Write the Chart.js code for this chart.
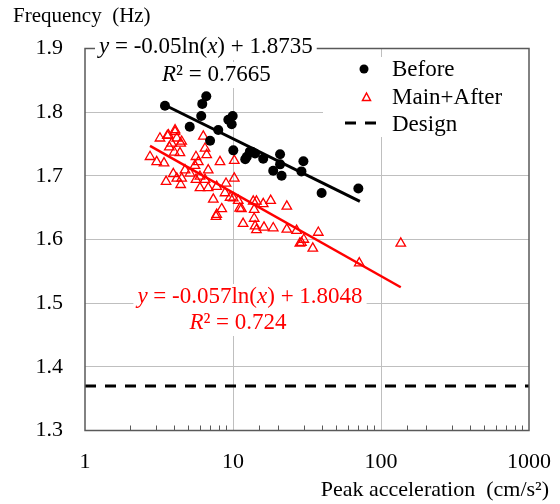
<!DOCTYPE html>
<html>
<head>
<meta charset="utf-8">
<script src="https://cdn.jsdelivr.net/npm/chart.js@4.4.1/dist/chart.umd.min.js"></script>
<style>
  html, body { margin: 0; padding: 0; background: #fff; }
  #wrap { width: 560px; height: 504px; }
</style>
</head>
<body>
<div id="wrap"><canvas id="freqChart" width="560" height="504"></canvas></div>
<script>
const xTickLabels = [1, 10, 100, 1000];
const yTickLabels = [1.3, 1.4, 1.5, 1.6, 1.7, 1.8, 1.9];

// Before (black dots)
const beforeX = [3.47, 5.1, 6.1, 6.2, 6.6, 7.0, 7.95, 9.3, 9.8, 9.95, 10.05, 12.1, 12.4, 13.0,
    13.4, 14.1, 16.0, 18.7, 20.8, 20.8, 21.3, 29.9, 29.0, 39.7, 70.3];
const beforeY = [1.810, 1.777, 1.794, 1.813, 1.825, 1.755, 1.772, 1.788, 1.781, 1.794, 1.740, 1.726, 1.730, 1.738,
    1.738, 1.735, 1.727, 1.708, 1.734, 1.718, 1.700, 1.723, 1.707, 1.673, 1.680];

// Main+After (red triangles)
const mainX = [2.75, 3.05, 3.21, 3.42, 3.53, 3.6, 3.66, 3.71, 3.85, 3.95, 4.01, 4.06, 4.06, 4.17, 4.17,
    4.38, 4.43, 4.43, 4.5, 4.5, 4.74, 5.12, 5.53, 5.62, 5.62, 5.83, 5.98, 5.98, 6.3, 6.47, 6.47, 6.64,
    6.8, 6.8, 7.36, 7.68, 7.76, 7.76, 8.17, 8.39, 8.83, 8.97, 9.55, 10.05, 10.2, 10.2, 10.85, 11.1,
    11.4, 11.7, 13.7, 14.4, 13.9, 13.9, 14.1, 14.4, 16.0, 16.2, 17.97, 18.7, 23.1, 23.1, 26.9, 28.3,
    29.0, 30.1, 34.6, 37.7, 71.3, 136];
const mainY = [1.730, 1.722, 1.759, 1.720, 1.691, 1.763, 1.764, 1.745, 1.751, 1.703, 1.737, 1.769, 1.772, 1.759, 1.696,
    1.736, 1.751, 1.686, 1.754, 1.696, 1.709, 1.704, 1.716, 1.730, 1.694, 1.722, 1.699, 1.681, 1.762, 1.743, 1.694, 1.733,
    1.709, 1.681, 1.663, 1.636, 1.639, 1.683, 1.722, 1.648, 1.673, 1.688, 1.666, 1.665, 1.724, 1.696, 1.661, 1.649,
    1.648, 1.625, 1.660, 1.660, 1.647, 1.633, 1.621, 1.615, 1.656, 1.619, 1.661, 1.618, 1.652, 1.616, 1.614, 1.594,
    1.595, 1.600, 1.586, 1.611, 1.563, 1.594];

// trend line end points and design level
const beforeFitX = [3.4, 72];
const beforeFitY = [1.812, 1.660];
const mainFitX = [2.75, 136];
const mainFitY = [1.747, 1.525];
const designX = [1, 1000];
const designY = [1.37, 1.37];

const toPoints = (xs, ys) => xs.map((x, i) => ({ x: x, y: ys[i] }));

const SERIF = "'Liberation Serif', 'Times New Roman', serif";
const GRID = '#bfbfbf';
const FRAME = '#595959';

// draws text made of plain / italic pieces; x is the left edge, or the centre when centred is true
function drawRich(ctx, parts, x0, cy, color, centred, size) {
    ctx.textBaseline = 'middle';
    ctx.textAlign = 'left';
    const font = it => (it ? 'italic ' : '') + size + 'px ' + SERIF;
    let total = 0;
    const widths = parts.map(p => {
        ctx.font = font(p[1]);
        const w = ctx.measureText(p[0]).width;
        total += w;
        return w;
    });
    let x = centred ? x0 - total / 2 : x0;
    ctx.fillStyle = '#fff';
    ctx.fillRect(x - 4, cy - 13, total + 8, 26);
    ctx.fillStyle = color;
    parts.forEach((p, i) => {
        ctx.font = font(p[1]);
        ctx.fillText(p[0], x, cy);
        x += widths[i];
    });
}

const overlay = {
    id: 'overlay',
    afterDraw(chart) {
        const { ctx, chartArea: a, scales: { x } } = chart;
        ctx.save();

        // minor ticks on the bottom axis, pointing inward
        ctx.strokeStyle = FRAME;
        ctx.lineWidth = 1;
        x.ticks.forEach(t => {
            if (xTickLabels.includes(t.value)) return;
            const px = Math.round(x.getPixelForValue(t.value)) + 0.5;
            ctx.beginPath();
            ctx.moveTo(px, a.bottom);
            ctx.lineTo(px, a.bottom - 5);
            ctx.stroke();
        });

        // legend
        ctx.fillStyle = '#fff';
        ctx.fillRect(323, 57, a.right - 323, 80);
        ctx.font = '23px ' + SERIF;
        ctx.textBaseline = 'middle';
        ctx.textAlign = 'left';
        ctx.fillStyle = '#000';
        ctx.beginPath();
        ctx.arc(364, 69, 4.5, 0, Math.PI * 2);
        ctx.fill();
        ctx.fillText('Before', 392, 70);

        ctx.strokeStyle = '#ff0000';
        ctx.lineWidth = 1.5;
        ctx.beginPath();
        ctx.moveTo(366.5, 93);
        ctx.lineTo(370.5, 100.5);
        ctx.lineTo(362.5, 100.5);
        ctx.closePath();
        ctx.stroke();
        ctx.fillStyle = '#000';
        ctx.fillText('Main+After', 392, 98);

        ctx.strokeStyle = '#000';
        ctx.lineWidth = 3;
        ctx.setLineDash([11, 9]);
        ctx.beginPath();
        ctx.moveTo(345, 123);
        ctx.lineTo(376, 123);
        ctx.stroke();
        ctx.setLineDash([]);
        ctx.fillText('Design', 392, 125);

        // plot frame
        ctx.strokeStyle = FRAME;
        ctx.lineWidth = 1.5;
        ctx.strokeRect(a.left, a.top, a.right - a.left, a.bottom - a.top);

        // regression equations
        drawRich(ctx, [['y', 1], [' = -0.05ln(', 0], ['x', 1], [') + 1.8735', 0]], 99, 47, '#000', false, 23);
        drawRich(ctx, [['R', 1], ['\u00b2 = 0.7665', 0]], 162, 75, '#000', false, 23);
        drawRich(ctx, [['y', 1], [' = -0.057ln(', 0], ['x', 1], [') + 1.8048', 0]], 250, 297, '#ff0000', true, 23);
        drawRich(ctx, [['R', 1], ['\u00b2 = 0.724', 0]], 238, 323, '#ff0000', true, 23);

        // axis titles
        ctx.fillStyle = '#000';
        ctx.font = '21px ' + SERIF;
        ctx.textAlign = 'left';
        ctx.fillText('Frequency  (Hz)', 13, 16);
        ctx.font = '22px ' + SERIF;
        ctx.textAlign = 'right';
        ctx.fillText('Peak acceleration  (cm/s\u00b2)', 549, 490);
        ctx.restore();
    }
};

const ctx = document.getElementById('freqChart').getContext('2d');

new Chart(ctx, {
    type: 'scatter',
    data: {
        datasets: [
            {
                label: 'Before fit', type: 'line', data: toPoints(beforeFitX, beforeFitY),
                borderColor: '#000', borderWidth: 3, pointRadius: 0, fill: false
            },
            {
                label: 'Main+After fit', type: 'line', data: toPoints(mainFitX, mainFitY),
                borderColor: '#ff0000', borderWidth: 2.5, pointRadius: 0, fill: false
            },
            {
                label: 'Before', data: toPoints(beforeX, beforeY),
                pointStyle: 'circle', pointRadius: 5, backgroundColor: '#000', borderColor: '#000', borderWidth: 0
            },
            {
                label: 'Main+After', data: toPoints(mainX, mainY),
                pointStyle: 'triangle', pointRadius: 5.5, backgroundColor: 'rgba(0,0,0,0)', borderColor: '#ff0000', borderWidth: 1.3
            },
            {
                label: 'Design', type: 'line', data: toPoints(designX, designY),
                borderColor: '#000', borderWidth: 3, borderDash: [11, 9], pointRadius: 0, fill: false
            }
        ]
    },
    plugins: [overlay],
    options: {
        responsive: false,
        animation: false,
        layout: { padding: { left: 0, right: 31, top: 48.5, bottom: 0 } },
        plugins: {
            legend: { display: false },
            tooltip: { enabled: false }
        },
        scales: {
            x: {
                type: 'logarithmic',
                min: 1,
                max: 1000,
                border: { display: false },
                grid: {
                    drawTicks: false,
                    lineWidth: 1,
                    color: c => (c.tick && (c.tick.value === 10 || c.tick.value === 100)) ? GRID : 'rgba(0,0,0,0)'
                },
                ticks: {
                    autoSkip: false,
                    maxRotation: 0,
                    padding: 19,
                    color: '#000',
                    font: { family: SERIF, size: 22 },
                    callback: v => xTickLabels.includes(v) ? String(v) : ''
                },
                afterFit: s => {
                    s.height = 73.5;
                    s.paddingLeft = 0;
                    s.paddingRight = 0;
                }
            },
            y: {
                min: 1.3,
                max: 1.9,
                border: { display: false },
                grid: {
                    drawTicks: false,
                    lineWidth: 1,
                    color: c => {
                        const v = c.tick ? c.tick.value : 0;
                        return (Math.abs(v - 1.3) < 1e-6 || Math.abs(v - 1.9) < 1e-6) ? 'rgba(0,0,0,0)' : GRID;
                    }
                },
                ticks: {
                    stepSize: 0.1,
                    padding: 22,
                    color: '#000',
                    font: { family: SERIF, size: 22 },
                    callback: v => {
                        const hit = yTickLabels.find(t => Math.abs(t - v) < 1e-6);
                        return hit !== undefined ? hit.toFixed(1) : '';
                    }
                },
                afterFit: s => {
                    s.width = 85;
                    s.paddingTop = 0;
                    s.paddingBottom = 0;
                }
            }
        }
    }
});
</script>
</body>
</html>
